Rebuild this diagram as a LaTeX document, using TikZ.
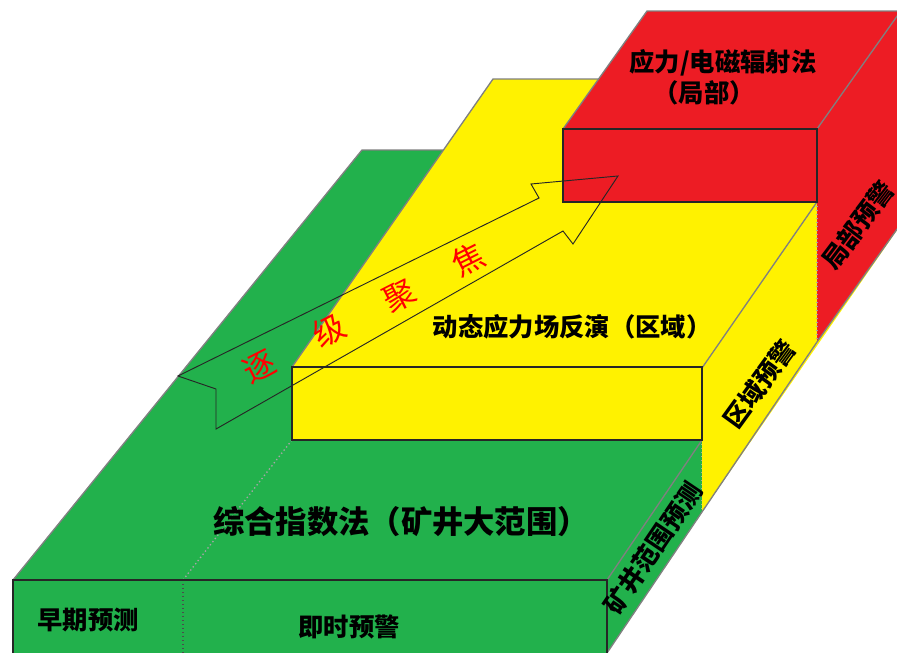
\documentclass[tikz,border=0pt]{standalone}
\usepackage{fontspec}
\newfontfamily\cjk{Noto Sans CJK SC}
\usepackage{tikz}
\definecolor{boxgreen}{RGB}{34,177,76}
\definecolor{boxyellow}{RGB}{255,242,0}
\definecolor{boxred}{RGB}{237,28,36}
\tikzset{
frontline/.style={ % outline of the front faces
draw=black!85,
line width=1.1pt},
rimline/.style={draw=gray, line width=1pt}, % slanted and back edges
divider/.style={draw=gray!70, dotted, line width=1pt},
tag/.style={font=\cjk\bfseries\fontsize{19}{19}\selectfont, inner sep=0pt},
bigtag/.style={font=\cjk\bfseries\fontsize{23.5}{23.5}\selectfont, inner sep=0pt},
focusarrow/.style={draw=black!85, line width=0.7pt},
focustext/.style={font=\cjk\fontsize{24}{24}\selectfont, text=red, inner sep=0pt}}

\begin{document}
\begin{tikzpicture}[x=0.75pt,y=-0.75pt]
\useasboundingbox (0,0) rectangle (897,653);
\clip (0,0) rectangle (897,653);
% green block: mine-wide level
\fill[boxgreen] (13,660) -- (13,580) -- (362,150) -- (940,150) -- (940,160) -- (602,660) -- cycle;
\draw[rimline] (13,580) -- (362,150) -- (443,150);
\draw[rimline] (607,580) -- (702,440);
\draw[rimline] (607,653) -- (702,512);
\draw[divider] (183,580) -- (292,440);
\draw[divider, draw=black!70] (183,580) -- (183,660);
\draw[divider] (702,440) -- (702,512);
\draw[frontline] (13,660) -- (13,580) -- (607,580) -- (607,660);
% yellow block: regional level
\fill[boxyellow] (292,440) -- (292,367) -- (493,79) -- (940,79) -- (940,168) -- (702,512) -- (702,440) -- cycle;
\draw[rimline] (292,367) -- (493,79) -- (605,79);
\draw[rimline] (702,368) -- (817,202);
\draw[rimline] (702,512) -- (817,342);
\draw[frontline] (292,367) rectangle (702,440);
% red block: local level
\fill[boxred] (563,202) -- (563,129) -- (647,11) -- (940,11) -- (940,169) -- (817,342) -- (817,202) -- cycle;
\draw[rimline] (563,129) -- (647,11) -- (940,11);
\draw[rimline] (817,129) -- (900,12);
\draw[rimline] (817,342) -- (900,225);
\draw[divider] (817,202) -- (817,342);
\draw[frontline] (563,129) rectangle (817,202);
% focusing arrow
\draw[focusarrow] (178,376) -- (539,198) -- (531,184) -- (618,176) -- (573,244)
  -- (563,231) -- (216,429) -- (216,389) -- cycle;
\node[focustext, rotate=27] (focus) at (364,313) {逐\hspace{1.45em}级\hspace{1.45em}聚\hspace{1.45em}焦};
% texts
\node[bigtag] (zonghe) at (401,522) {综合指数法（矿井大范围）};
\node[tag] (zaoqi) at (88,620) {早期预测};
\node[tag] (jishi) at (349,627) {即时预警};
\node[tag, rotate=56] (kuangjing) at (653,548) {矿井范围预测};
\node[tag] (dongtai) at (572,327) {动态应力场反演（区域）};
\node[tag, rotate=54] (quyu) at (760,384) {区域预警};
\node[tag] (yingli) at (723,63) {应力/电磁辐射法};
\node[tag] (jubu) at (704,93) {（局部）};
\node[tag, rotate=53] (jubuyj) at (858,225) {局部预警};
\end{tikzpicture}
\end{document}
